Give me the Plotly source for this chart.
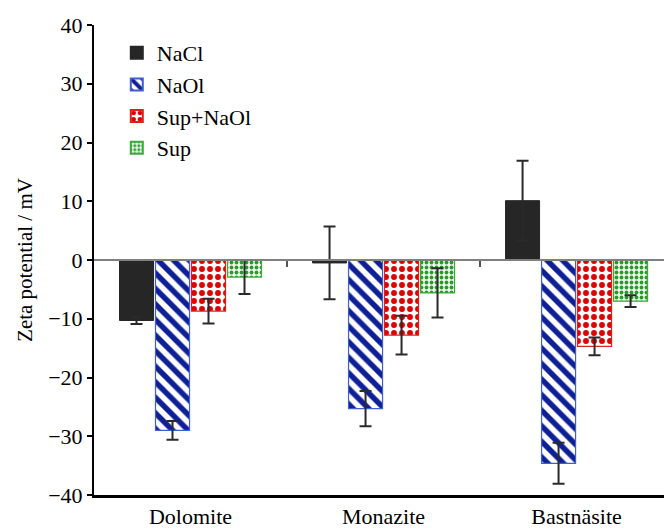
import plotly.graph_objects as go

categories = ["Dolomite", "Monazite", "Bastnäsite"]
series_names = ["NaCl", "NaOl", "Sup+NaOl", "Sup"]
nacl = [-10.3, -0.5, 10.1]
nacl_err = [0.6, 6.2, 6.8]
naol = [-29.0, -25.3, -34.6]
naol_err = [1.6, 3.0, 3.5]
supnaol = [-8.7, -12.8, -14.7]
supnaol_err = [2.1, 3.3, 1.5]
sup = [-2.9, -5.6, -7.0]
sup_err = [2.9, 4.2, 1.0]
y_ticks = [-40, -30, -20, -10, 0, 10, 20, 30, 40]

FONT = "Liberation Serif"
ERR = dict(type="data", visible=True, color="#2a2a2a", thickness=2, width=6)

styles = [
    dict(color="#262626", line=dict(color="#262626", width=1)),
    dict(color="white", line=dict(color="#3d5fd0", width=1.2),
         pattern=dict(shape="\\", fgcolor="#0f1f96", bgcolor="white", size=11,
                      solidity=0.5, fgopacity=1, fillmode="replace")),
    dict(color="white", line=dict(color="#e01f1f", width=1.2),
         pattern=dict(shape=".", fgcolor="#e00000", bgcolor="white", size=8,
                      solidity=0.42, fgopacity=1, fillmode="replace")),
    dict(color="white", line=dict(color="#3aaa3a", width=1.2),
         pattern=dict(shape=".", fgcolor="#2a9a2a", bgcolor="#f0f9f0", size=5,
                      solidity=0.45, fgopacity=1, fillmode="replace")),
]
values = [nacl, naol, supnaol, sup]
errors = [nacl_err, naol_err, supnaol_err, sup_err]

fig = go.Figure()
for name, vals, errs, st in zip(series_names, values, errors, styles):
    fig.add_trace(go.Bar(
        x=list(range(len(categories))), y=vals, name=name,
        marker=st, error_y=dict(array=errs, **ERR),
    ))

# invisible trace to create the zero-line axis with category-boundary ticks
fig.add_trace(go.Scatter(x=[0], y=[0], xaxis="x2", mode="markers",
                         marker=dict(opacity=0), showlegend=False, hoverinfo="skip"))

xr = [-0.5, 2.453]
fig.update_layout(
    width=664, height=529,
    margin=dict(l=94, r=0, t=25, b=30),
    paper_bgcolor="white", plot_bgcolor="white",
    font=dict(family=FONT, size=21, color="black"),
    barmode="group", bargap=0.254, bargroupgap=0.055,
    showlegend=True,
    legend=dict(x=0.04, y=0.985, xanchor="left", yanchor="top",
                bgcolor="rgba(0,0,0,0)", font=dict(size=22, family=FONT),
                itemsizing="constant"),
    xaxis=dict(range=xr, tickmode="array", tickvals=list(range(len(categories))),
               ticktext=categories, showline=True, linecolor="black", linewidth=3,
               ticks="", showgrid=False, zeroline=False,
               tickfont=dict(size=22, family=FONT)),
    xaxis2=dict(range=xr, overlaying="x", anchor="free", position=0.5,
                showline=True, linecolor="#808080", linewidth=1.5,
                tickmode="array", tickvals=[i + 0.5 for i in range(len(categories) - 1)],
                ticks="outside", ticklen=6, tickwidth=2, tickcolor="#555555",
                showticklabels=False, showgrid=False, zeroline=False),
    yaxis=dict(range=[-40, 40], tickvals=y_ticks, showline=True, linecolor="black",
               linewidth=2, ticks="outside", ticklen=5, tickwidth=2, tickcolor="black",
               showgrid=False, zeroline=False, tickfont=dict(size=22, family=FONT),
               title=dict(text="Zeta potential / mV", font=dict(size=21, family=FONT),
                          standoff=10)),
)

fig.write_html("out.html")
